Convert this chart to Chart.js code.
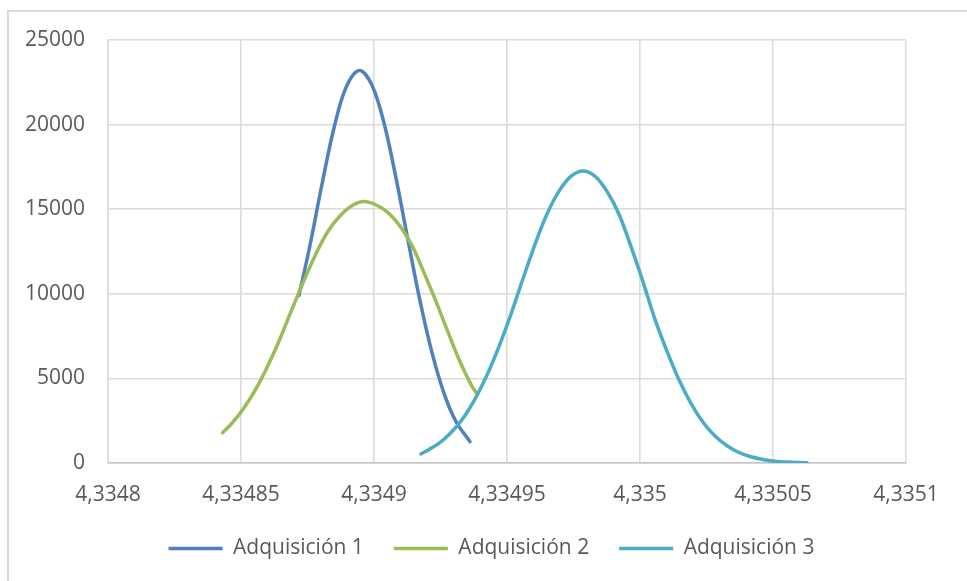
<!DOCTYPE html>
<html>
<head>
<meta charset="utf-8">
<script src="https://cdn.jsdelivr.net/npm/chart.js@4.4.1/dist/chart.umd.min.js"></script>
<style>
  html, body { margin: 0; padding: 0; background: #ffffff; }
  #wrap { position: relative; width: 967px; height: 581px; overflow: hidden; }
  #frame { position: absolute; left: 7px; top: 10px; right: -10px; bottom: -10px;
           border-left: 2px solid #d9d9d9; border-top: 2px solid #d9d9d9; }
  canvas { position: absolute; left: 0; top: 0; }
</style>
</head>
<body>
<div id="wrap">
  <div id="frame"></div>
  <canvas id="chart" width="967" height="581"></canvas>
</div>
<script>
// Series names
const seriesNames = ['Adquisición 1', 'Adquisición 2', 'Adquisición 3'];

// Adquisición 1
const x1 = [4.3348718, 4.3348759, 4.3348805, 4.3348850, 4.3348895, 4.3348945, 4.3348992,
            4.3349038, 4.3349083, 4.3349128, 4.3349173, 4.3349218, 4.3349263, 4.3349308, 4.3349361];
const y1 = [9900, 12840, 16520, 19830, 22200, 23200, 22340,
            20070, 16820, 13150, 9580, 6520, 4130, 2450, 1260];

// Adquisición 2
const x2 = [4.3348431, 4.3348466, 4.3348511, 4.3348556, 4.3348602, 4.3348647, 4.3348692, 4.3348737,
            4.3348782, 4.3348827, 4.3348872, 4.3348917, 4.3348962, 4.3349008, 4.3349053, 4.3349098,
            4.3349143, 4.3349188, 4.3349233, 4.3349278, 4.3349323, 4.3349368, 4.3349386];
const y2 = [1790, 2350, 3250, 4380, 5780, 7360, 9100, 10800,
            12370, 13700, 14600, 15200, 15450, 15250, 14800, 14000,
            12850, 11250, 9550, 7750, 6000, 4540, 4120];

// Adquisición 3
const x3 = [4.3349177, 4.3349199, 4.3349244, 4.3349289, 4.3349335, 4.3349380, 4.3349425, 4.3349470,
            4.3349515, 4.3349560, 4.3349605, 4.3349650, 4.3349695, 4.3349741, 4.3349786, 4.3349831,
            4.3349876, 4.3349921, 4.3349966, 4.3350011, 4.3350056, 4.3350102, 4.3350147, 4.3350192,
            4.3350237, 4.3350282, 4.3350327, 4.3350372, 4.3350417, 4.3350462, 4.3350508, 4.3350553,
            4.3350598, 4.3350628];
const y3 = [540, 730, 1160, 1790, 2650, 3790, 5200, 6890,
            8800, 10890, 12910, 14700, 16050, 16950, 17260, 16950,
            16050, 14700, 12800, 10720, 8500, 6580, 4900, 3510,
            2410, 1600, 1020, 620, 370, 210, 110, 60,
            30, 18];

// Axis ticks
const xTickValues = [4.3348, 4.33485, 4.3349, 4.33495, 4.335, 4.33505, 4.3351];
const xTickLabels = ['4,3348', '4,33485', '4,3349', '4,33495', '4,335', '4,33505', '4,3351'];
const yTickValues = [0, 5000, 10000, 15000, 20000, 25000];
const yTickLabels = ['0', '5000', '10000', '15000', '20000', '25000'];

const colors = ['#4F81BD', '#9BBB59', '#4BACC6'];
const textColor = '#595959';
const gridColor = '#dcdcdc';
const fontFamily = '"Open Sans", "Liberation Sans", sans-serif';
const fontSize = 21;

function toPoints(xs, ys) {
  return xs.map((x, i) => ({ x: x, y: ys[i] }));
}

const seriesX = [x1, x2, x3];
const seriesY = [y1, y2, y3];

const datasets = seriesNames.map((name, i) => ({
  label: name,
  data: toPoints(seriesX[i], seriesY[i]),
  showLine: true,
  borderColor: colors[i],
  backgroundColor: colors[i],
  borderWidth: 3.5,
  borderCapStyle: 'round',
  borderJoinStyle: 'round',
  pointRadius: 0,
  pointHoverRadius: 0,
  tension: 0.35,
  order: 3 - i
}));

// Replace tick values with the fixed list and give them their printed labels
function fixedTicks(values, labels) {
  return {
    afterBuildTicks: axis => { axis.ticks = values.map(v => ({ value: v })); },
    afterTickToLabelConversion: axis => { axis.ticks.forEach((t, i) => { t.label = labels[i]; }); }
  };
}

new Chart(document.getElementById('chart'), {
  type: 'scatter',
  data: { datasets: datasets },
  options: {
    responsive: false,
    animation: false,
    devicePixelRatio: 1,
    layout: { padding: { left: 16, right: 0, top: 40, bottom: 12 } },
    plugins: {
      tooltip: { enabled: false },
      legend: {
        position: 'bottom',
        labels: {
          font: { family: fontFamily, size: fontSize },
          color: textColor,
          usePointStyle: true,
          pointStyle: 'line',
          pointStyleWidth: 54,
          boxHeight: 3,
          padding: 30,
          sort: (a, b) => a.datasetIndex - b.datasetIndex
        }
      }
    },
    scales: {
      x: Object.assign({
        type: 'linear',
        min: xTickValues[0],
        max: xTickValues[xTickValues.length - 1],
        afterFit: axis => { axis.height = 45; },
        ticks: {
          font: { family: fontFamily, size: fontSize },
          color: textColor,
          padding: 19,
          maxRotation: 0,
          autoSkip: false
        },
        grid: { color: gridColor, lineWidth: 1.6, drawTicks: false },
        border: { color: '#c4c4c4', width: 1.6 }
      }, fixedTicks(xTickValues, xTickLabels)),
      y: Object.assign({
        type: 'linear',
        position: 'left',
        min: yTickValues[0],
        max: yTickValues[yTickValues.length - 1],
        afterFit: axis => { axis.width = 92; },
        ticks: {
          font: { family: fontFamily, size: fontSize },
          color: textColor,
          padding: 23
        },
        grid: { color: gridColor, lineWidth: 1.6, drawTicks: false },
        border: { color: gridColor, width: 1.6 }
      }, fixedTicks(yTickValues, yTickLabels)),
      // empty strip on the right of the plot area
      yRight: {
        type: 'linear',
        position: 'right',
        afterFit: axis => { axis.width = 61; },
        ticks: { display: false },
        grid: { display: false, drawTicks: false },
        border: { display: false }
      }
    }
  }
});
</script>
</body>
</html>
